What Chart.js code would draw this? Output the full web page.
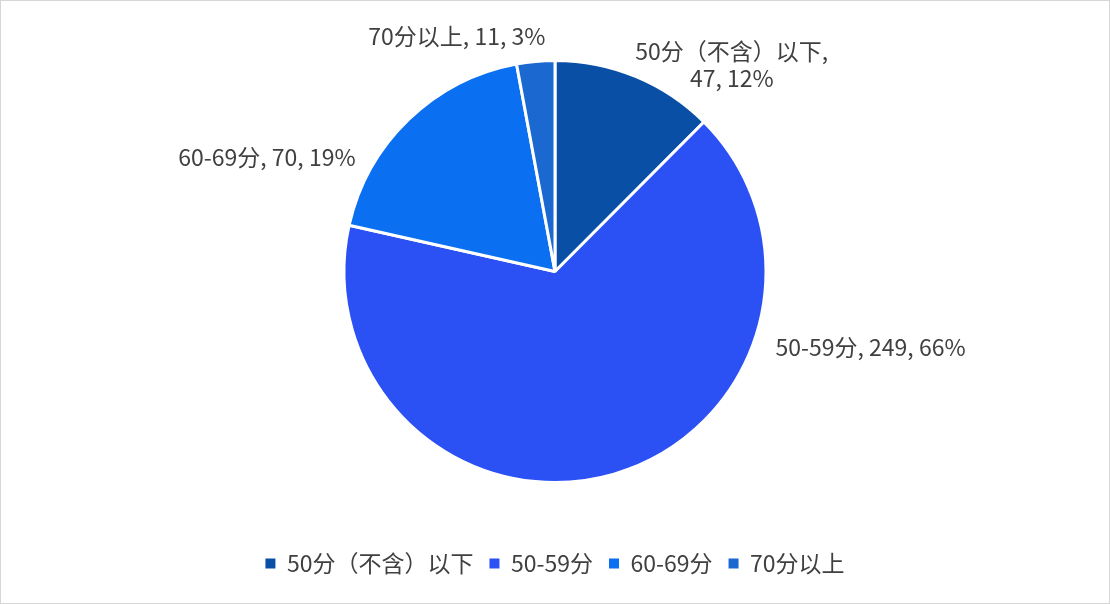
<!DOCTYPE html>
<html><head><meta charset="utf-8">
<script src="https://cdn.jsdelivr.net/npm/chart.js@4"></script>
<style>html,body{margin:0;padding:0;background:#fff}#wrap{width:1110px;height:604px;position:relative}</style>
</head><body><div id="wrap"><canvas id="c" width="1110" height="604"></canvas></div>
<script>
const categories = ['50分（不含）以下', '50-59分', '60-69分', '70分以上'];
const counts = [47, 249, 70, 11];
const percentLabels = ['12%', '66%', '19%', '3%'];
const sliceColors = ['#0A4FA6', '#2B51F5', '#0A6FF0', '#1A68D0'];

const FONT = '"Noto Sans CJK SC", "Noto Sans", sans-serif';
// label placement relative to each arc: angle (deg clockwise from top), radius factor, align
const labelPlacement = [
  {angle: 40.5, r: 1.29, align: 'center', lines: i => [categories[i] + ',', counts[i] + ', ' + percentLabels[i]]},
  {angle: 109, r: 1.105, align: 'left', lines: i => [categories[i] + ', ' + counts[i] + ', ' + percentLabels[i]]},
  {angle: 299.9, r: 1.09, align: 'right', lines: i => [categories[i] + ', ' + counts[i] + ', ' + percentLabels[i]]},
  {angle: 337.4, r: 1.21, align: 'center', lines: i => [categories[i] + ', ' + counts[i] + ', ' + percentLabels[i]]}
];

const frame = {
  id: 'frame',
  beforeDraw(chart) {
    const ctx = chart.ctx;
    ctx.save();
    ctx.fillStyle = '#ffffff';
    ctx.fillRect(0, 0, chart.width, chart.height);
    ctx.strokeStyle = '#d6d6d6';
    ctx.lineWidth = 1;
    ctx.strokeRect(0.5, 0.5, chart.width - 1, chart.height - 1);
    ctx.restore();
  }
};

const dataLabels = {
  id: 'dataLabels',
  afterDatasetsDraw(chart) {
    const ctx = chart.ctx;
    const meta = chart.getDatasetMeta(0);
    ctx.save();
    ctx.font = '23px ' + FONT;
    ctx.fillStyle = '#404040';
    ctx.textBaseline = 'middle';
    meta.data.forEach((arc, i) => {
      const p = labelPlacement[i];
      const a = p.angle * Math.PI / 180;
      const R = arc.outerRadius * p.r;
      const x = arc.x + Math.sin(a) * R;
      const y = arc.y - Math.cos(a) * R;
      const lines = p.lines(i);
      const lh = 27;
      ctx.textAlign = p.align;
      lines.forEach((t, k) => {
        ctx.fillText(t, x, y + (k - (lines.length - 1) / 2) * lh);
      });
    });
    ctx.restore();
  }
};

new Chart(document.getElementById('c'), {
  type: 'pie',
  data: {
    labels: categories,
    datasets: [{
      data: counts,
      backgroundColor: sliceColors,
      borderColor: '#ffffff',
      borderWidth: 3,
      radius: 211
    }]
  },
  options: {
    responsive: false,
    animation: false,
    layout: {padding: {top: 7, bottom: 19, left: 0, right: 0}},
    plugins: {
      tooltip: {enabled: false},
      legend: {
        position: 'bottom',
        labels: {
          boxWidth: 10, boxHeight: 10, padding: 16,
          color: '#404040',
          font: {size: 23, family: FONT},
          generateLabels(chart) {
            const items = Chart.overrides.pie.plugins.legend.labels.generateLabels(chart);
            items.forEach(it => { it.lineWidth = 0; it.strokeStyle = it.fillStyle; });
            return items;
          }
        }
      }
    }
  },
  plugins: [frame, dataLabels]
});
</script></body></html>
